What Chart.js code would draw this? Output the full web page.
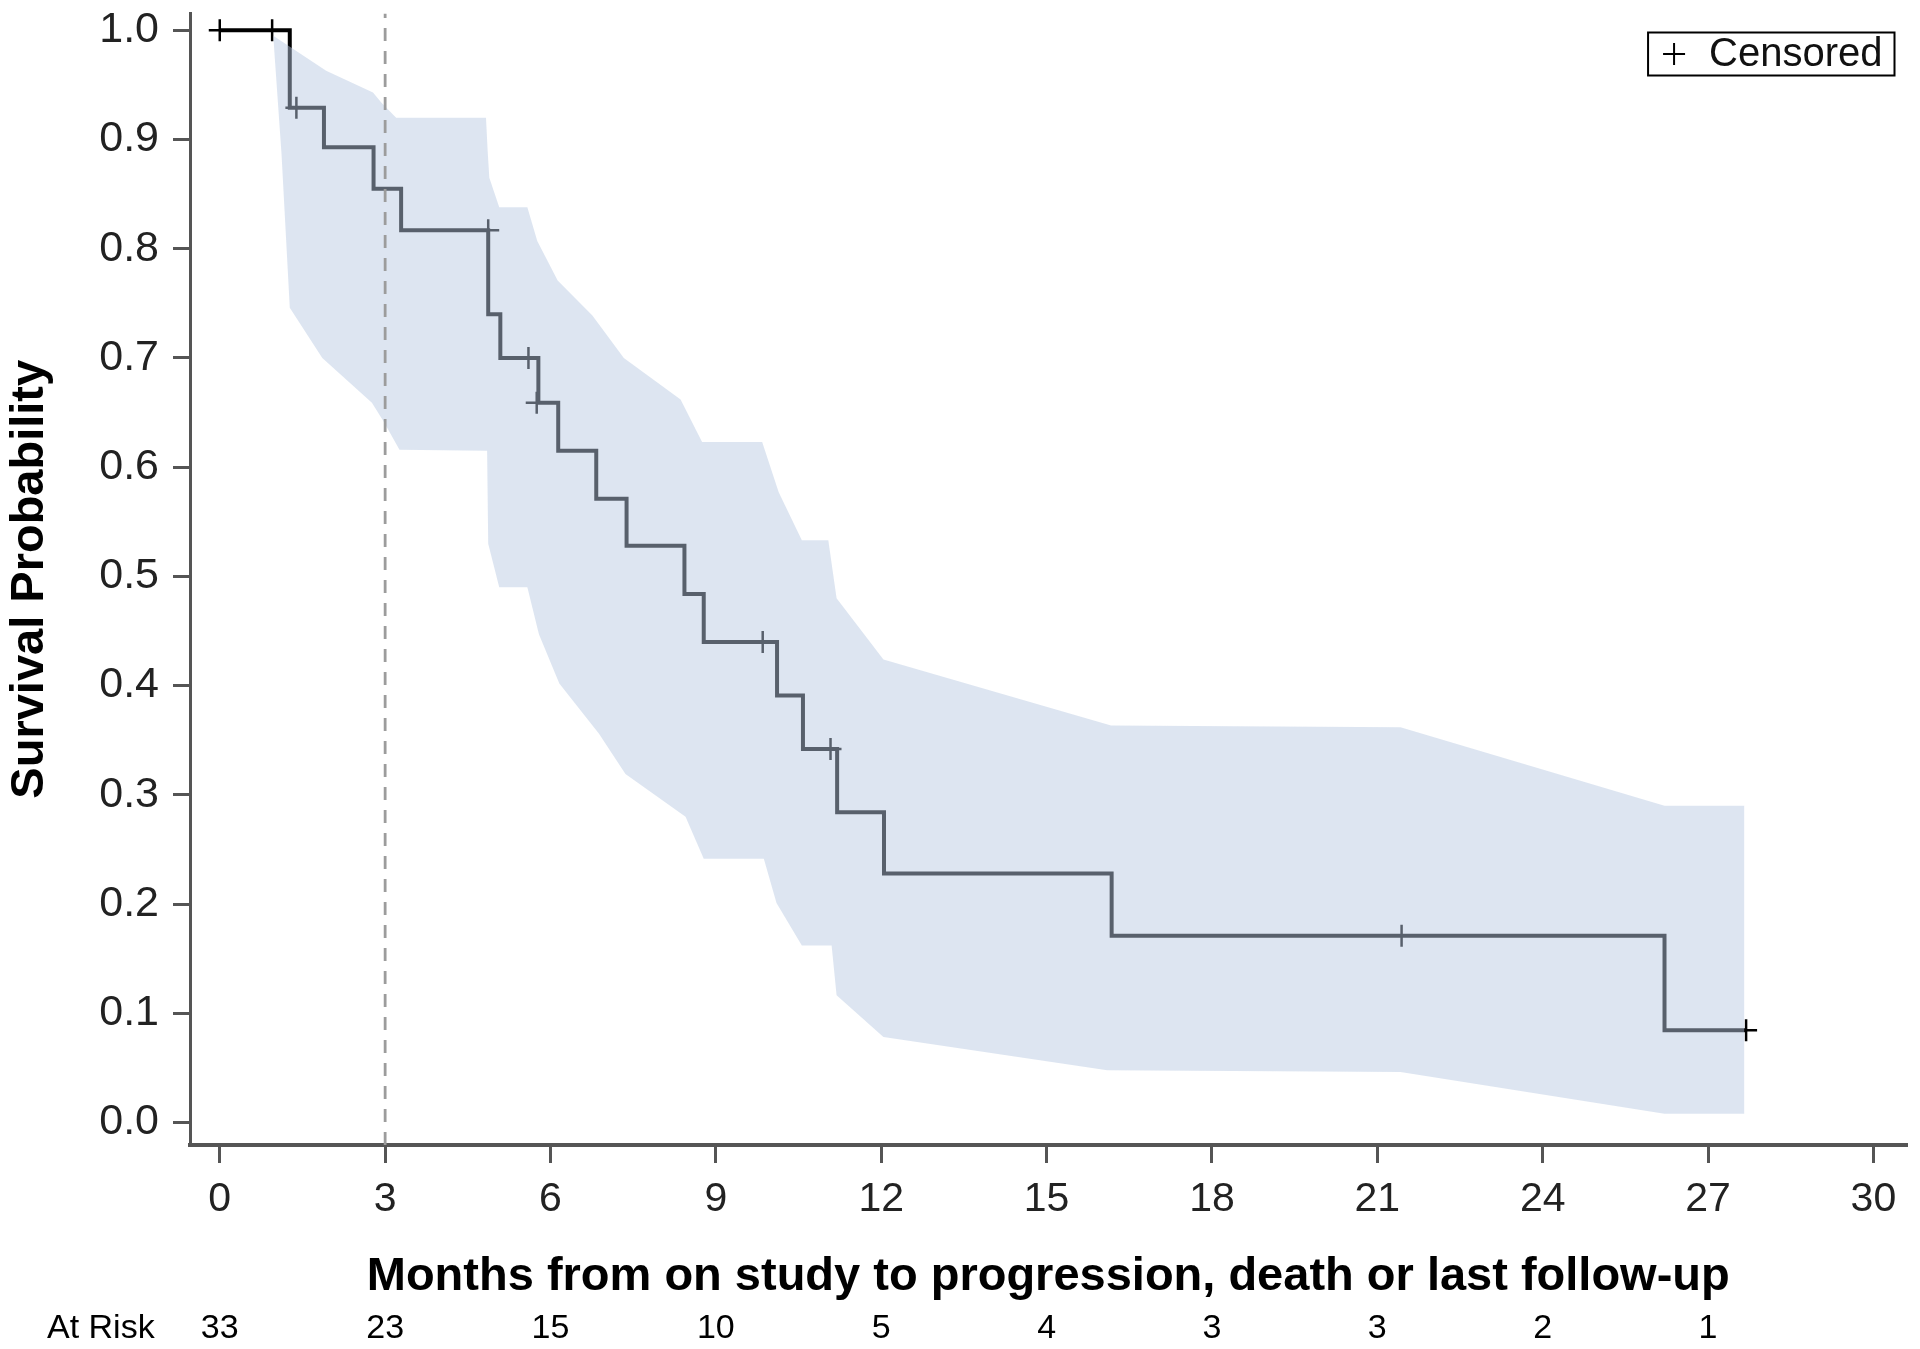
<!DOCTYPE html>
<html>
<head>
<meta charset="utf-8">
<script src="https://cdn.jsdelivr.net/npm/chart.js@4.4.1/dist/chart.umd.min.js"></script>
<style>
html, body { margin: 0; padding: 0; background: #ffffff; }
#wrap { width: 1920px; height: 1349px; position: relative; }
</style>
</head>
<body>
<div id="wrap"><canvas id="c" width="1920" height="1349"></canvas></div>
<script>
// ---- Data ----
const kmTimes = [0, 1.27, 1.89, 2.79, 3.29, 4.87, 5.09, 5.78, 6.14, 6.83, 7.38, 8.43, 8.78, 10.11, 10.58, 11.20, 12.05, 16.18, 26.21, 27.69];
const kmSurv  = [1.0, 0.929, 0.893, 0.855, 0.817, 0.740, 0.700, 0.659, 0.615, 0.571, 0.528, 0.484, 0.440, 0.391, 0.342, 0.284, 0.228, 0.171, 0.0845, 0.0845];

const censorTimes = [0, 0.95, 1.39, 4.87, 5.60, 5.75, 9.85, 11.08, 21.44, 27.69];
const censorSurv  = [1.0, 1.0, 0.929, 0.817, 0.700, 0.659, 0.440, 0.342, 0.171, 0.0845];

const upperTimes = [0.97, 1.30, 1.93, 2.78, 2.93, 3.20, 4.83, 4.86, 4.89, 5.07, 5.58, 5.76, 6.13, 6.76, 7.33, 8.36, 8.75, 9.84, 10.14, 10.56, 11.04, 11.19, 12.04, 16.17, 21.42, 26.21, 27.66];
const upperVals  = [0.995, 0.984, 0.963, 0.943, 0.934, 0.920, 0.920, 0.8895, 0.865, 0.838, 0.838, 0.807, 0.771, 0.739, 0.700, 0.662, 0.623, 0.623, 0.577, 0.533, 0.533, 0.480, 0.424, 0.3635, 0.362, 0.290, 0.290];

const lowerTimes = [0.97, 1.12, 1.27, 1.86, 2.76, 2.97, 3.26, 4.85, 4.87, 5.07, 5.58, 5.79, 6.16, 6.88, 7.36, 8.45, 8.78, 9.87, 10.10, 10.56, 11.10, 11.19, 12.04, 16.10, 21.42, 26.21, 27.66];
const lowerVals  = [0.995, 0.887, 0.746, 0.700, 0.659, 0.642, 0.616, 0.615, 0.530, 0.490, 0.490, 0.447, 0.402, 0.356, 0.319, 0.280, 0.2415, 0.2415, 0.201, 0.162, 0.162, 0.1165, 0.0783, 0.0479, 0.0463, 0.0081, 0.0081];

const xTicks = [0, 3, 6, 9, 12, 15, 18, 21, 24, 27, 30];
const yTicks = [0.0, 0.1, 0.2, 0.3, 0.4, 0.5, 0.6, 0.7, 0.8, 0.9, 1.0];

const atRiskTimes = [0, 3, 6, 9, 12, 15, 18, 21, 24, 27];
const atRiskCounts = [33, 23, 15, 10, 5, 4, 3, 3, 2, 1];

const landmarkMonth = 3;

const xTitle = 'Months from on study to progression, death or last follow-up';
const yTitle = 'Survival Probability';
const legendLabel = 'Censored';
const atRiskLabel = 'At Risk';

// ---- Axis ranges ----
const X_MIN = -0.54, X_MAX = 30.6;
const Y_MIN = -0.0206, Y_MAX = 1.0154;

const FONT = '"Liberation Sans", Arial, Helvetica, sans-serif';

const pts = (xs, ys) => xs.map((x, i) => ({ x: x, y: ys[i] }));

const overlay = {
  id: 'overlay',
  afterDraw(chart) {
    const { ctx, chartArea, scales } = chart;
    const x = scales.x;
    ctx.save();
    // At-risk row
    ctx.fillStyle = '#000';
    ctx.textBaseline = 'middle';
    ctx.font = '34px ' + FONT;
    const rowY = chart.height - 20;
    ctx.textAlign = 'left';
    ctx.fillText(atRiskLabel, 47, rowY);
    ctx.textAlign = 'center';
    atRiskTimes.forEach((t, i) => {
      ctx.fillText(String(atRiskCounts[i]), x.getPixelForValue(t), rowY);
    });
    // Legend box
    ctx.font = '40px ' + FONT;
    const w = ctx.measureText(legendLabel).width;
    const boxW = 61 + w + 12;
    const boxH = 43;
    const right = chartArea.right - 12;
    const left = right - boxW;
    const top = chartArea.top + 19;
    ctx.strokeStyle = '#000';
    ctx.lineWidth = 2;
    ctx.strokeRect(left, top, boxW, boxH);
    const cx = left + 26, cy = top + boxH / 2;
    ctx.beginPath();
    ctx.moveTo(cx - 11, cy); ctx.lineTo(cx + 11, cy);
    ctx.moveTo(cx, cy - 11); ctx.lineTo(cx, cy + 11);
    ctx.stroke();
    ctx.textAlign = 'left';
    ctx.fillStyle = '#111';
    ctx.fillText(legendLabel, left + 61, cy + 1);
    ctx.restore();
  }
};

new Chart(document.getElementById('c'), {
  type: 'line',
  data: {
    datasets: [
      {
        label: 'landmark',
        data: [{ x: landmarkMonth, y: Y_MIN }, { x: landmarkMonth, y: Y_MAX }],
        borderColor: '#9c9c9c',
        borderWidth: 2.8,
        borderDash: [13, 10],
        pointRadius: 0,
        fill: false,
        order: -1
      },
      {
        label: 'upper',
        data: pts(upperTimes, upperVals),
        borderColor: 'rgba(0,0,0,0)',
        borderWidth: 1,
        pointRadius: 0,
        fill: 2,
        backgroundColor: 'rgba(183,200,225,0.48)',
        order: 0
      },
      {
        label: 'lower',
        data: pts(lowerTimes, lowerVals),
        borderColor: 'rgba(0,0,0,0)',
        borderWidth: 1,
        pointRadius: 0,
        fill: false,
        order: 1
      },
      {
        label: 'KM',
        data: pts(kmTimes, kmSurv),
        borderColor: '#000',
        borderWidth: 4,
        stepped: true,
        pointRadius: 0,
        fill: false,
        order: 2
      },
      {
        type: 'scatter',
        label: legendLabel,
        data: pts(censorTimes, censorSurv),
        pointStyle: 'cross',
        pointRadius: 11,
        borderColor: '#000',
        borderWidth: 2.5,
        backgroundColor: '#000',
        order: 3
      }
    ]
  },
  options: {
    responsive: false,
    animation: false,
    events: [],
    layout: { padding: { top: 1, right: 10, left: 0, bottom: 0 } },
    plugins: {
      legend: { display: false },
      tooltip: { enabled: false }
    },
    scales: {
      x: {
        type: 'linear',
        min: X_MIN,
        max: X_MAX,
        afterBuildTicks: s => { s.ticks = xTicks.map(v => ({ value: v })); },
        afterFit: s => { s.height = 204; s.paddingLeft = 0; s.paddingRight = 0; },
        grid: { drawOnChartArea: false, drawTicks: true, tickLength: 18, color: '#555', lineWidth: 3 },
        border: { display: true, color: '#555', width: 4 },
        ticks: { font: { family: FONT, size: 41 }, color: '#222', padding: 12, maxRotation: 0, autoSkip: false },
        title: { display: true, text: xTitle, color: '#000', font: { family: FONT, size: 47, weight: 'bold' }, padding: { top: 0, bottom: 44 } }
      },
      y: {
        type: 'linear',
        min: Y_MIN,
        max: Y_MAX,
        afterBuildTicks: s => { s.ticks = yTicks.map(v => ({ value: v })); },
        afterFit: s => { s.width = 190; s.paddingTop = 0; s.paddingBottom = 0; },
        grid: { drawOnChartArea: false, drawTicks: true, tickLength: 17, color: '#555', lineWidth: 3 },
        border: { display: true, color: '#555', width: 3 },
        ticks: { font: { family: FONT, size: 43 }, color: '#222', padding: 14, callback: v => Number(v).toFixed(1) },
        title: { display: true, text: yTitle, color: '#000', font: { family: FONT, size: 47, weight: 'bold' }, padding: { top: 2, bottom: 0 } }
      }
    }
  },
  plugins: [overlay]
});
</script>
</body>
</html>
